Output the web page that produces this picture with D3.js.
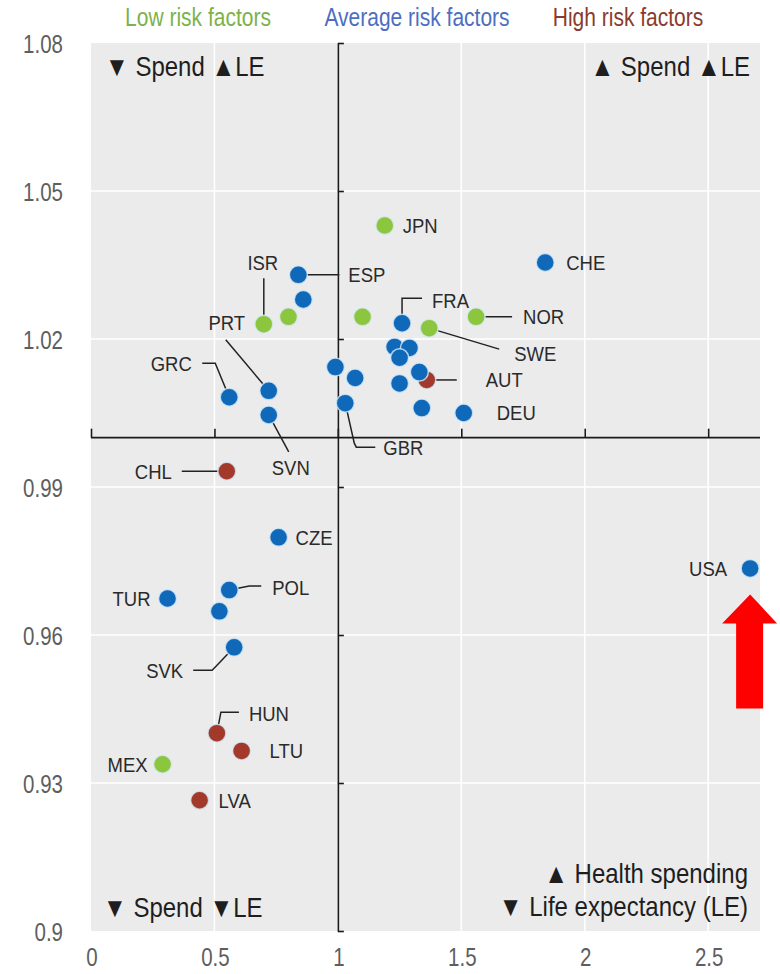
<!DOCTYPE html>
<html><head><meta charset="utf-8">
<script src="https://cdn.jsdelivr.net/npm/d3@7"></script>
<style>
html,body{margin:0;padding:0;background:#fff;}
svg{display:block;font-family:"Liberation Sans",Arial,sans-serif;}
</style></head>
<body>
<svg id="chart" width="780" height="974"></svg>
<script>
// ---- data ----
const codes   = ["JPN","CHE","ESP","","ISR","","","FRA","NOR","SWE","","","","","AUT","","","DEU","","","GBR","PRT","GRC","SVN","CHL","CZE","TUR","POL","","SVK","HUN","LTU","MEX","LVA","USA"];
const spend   = [1.19,1.84,0.84,0.86,0.70,0.80,1.10,1.26,1.56,1.37,1.23,1.29,1.25,1.25,1.36,1.33,1.34,1.51,0.99,1.07,1.03,0.72,0.56,0.72,0.55,0.76,0.31,0.56,0.52,0.58,0.51,0.61,0.29,0.44,2.67];
const lifeExp = [1.043,1.0355,1.033,1.028,1.023,1.0245,1.0245,1.0232,1.0245,1.0222,1.0184,1.0182,1.0162,1.011,1.0117,1.0133,1.006,1.005,1.0143,1.0121,1.007,1.0095,1.0082,1.0046,0.9932,0.9798,0.9674,0.9691,0.9648,0.9575,0.9401,0.9365,0.9338,0.9265,0.9735];
const risk    = ["low","avg","avg","avg","low","low","low","avg","low","low","avg","avg","avg","avg","high","avg","avg","avg","avg","avg","avg","avg","avg","avg","high","avg","avg","avg","avg","avg","high","high","low","high","avg"];
const riskGroups = ["low","avg","high"];
const riskNames  = ["Low risk factors","Average risk factors","High risk factors"];
const xTicks = [0,0.5,1,1.5,2,2.5];
const yTicks = [0.9,0.93,0.96,0.99,1.02,1.05,1.08];

// ---- styles / layout ----
const dotColor  = {low:"#8cc63e", avg:"#0f68b8", high:"#a2392a"};
const textColor = {low:"#7cb24a", avg:"#4c6ec2", high:"#8a3b2c"};
// label placement relative to dot: [dx, dy, anchor, leader points]
const labelPos = {
  JPN:[18,0,"start",null],
  CHE:[21,0,"start",null],
  ESP:[50,0,"start",[[0,0],[41,0]]],
  ISR:[-1,-62,"middle",[[0,-46],[0,-2]]],
  FRA:[30,-23,"start",[[0,0],[0,-25],[20,-25]]],
  NOR:[47,0,"start",[[0,0],[36,0]]],
  SWE:[85,25,"start",[[0,0],[70,21]]],
  AUT:[59,0,"start",[[0,0],[30,0]]],
  DEU:[33,0,"start",null],
  GBR:[38,44,"start",[[0,0],[9,40],[11,44],[30,44]]],
  PRT:[-42,-68,"middle",[[-43,-51],[0,0]]],
  GRC:[-58,-34,"middle",[[-27,-34],[-14,-34],[0,0]]],
  SVN:[22,53,"middle",[[0,0],[20,37]]],
  CHL:[-55,0,"end",[[-45,0],[0,0]]],
  CZE:[17,0,"start",null],
  TUR:[-17,0,"end",null],
  POL:[43,-3,"start",[[0,0],[20,-4],[32,-4]]],
  SVK:[-51,23,"end",[[-41,23],[-22,23],[0,0]]],
  HUN:[32,-20,"start",[[0,0],[4,-21],[22,-21]]],
  LTU:[28,0,"start",null],
  MEX:[-15,0,"end",null],
  LVA:[19,0,"start",null],
  USA:[-23,0,"end",null]
};

const svg = d3.select("#chart");
const X0 = 91, X1 = 760, Y0 = 43, Y1 = 931;
const x = d3.scaleLinear().domain([0, 2.71]).range([X0, X1]);
const y = d3.scaleLinear().domain([0.9, 1.08]).range([Y1, Y0]);

// helper: text stretched vertically around its baseline
function stretched(sel, fx, fy, sy){
  return sel.attr("x",0).attr("y",0)
    .attr("transform",(d,i)=>`translate(${fx(d,i)},${fy(d,i)}) scale(1,${sy})`);
}

// plot background
svg.append("rect").attr("x",X0).attr("y",Y0).attr("width",X1-X0).attr("height",Y1-Y0).attr("fill","#ebebeb");

// grid
const grid = svg.append("g").attr("stroke","#fff").attr("stroke-width",1.6);
grid.selectAll("line.v").data(xTicks.filter(d=>d>0)).join("line")
  .attr("x1",d=>x(d)).attr("x2",d=>x(d)).attr("y1",Y0).attr("y2",Y1);
grid.selectAll("line.h").data(yTicks.filter(d=>d>0.9 && d<1.08)).join("line").attr("class","h")
  .attr("x1",X0).attr("x2",X1).attr("y1",d=>y(d)).attr("y2",d=>y(d));

// crosshair axes
const hAxis = svg.append("g").attr("transform",`translate(0,${y(1)})`)
  .call(d3.axisTop(x).tickValues(xTicks).tickSize(9).tickSizeOuter(0).tickFormat(""));
hAxis.select(".domain").attr("d",`M${X0},0H${X1}`);
const vAxis = svg.append("g").attr("transform",`translate(${x(1)},0)`)
  .call(d3.axisRight(y).tickValues(yTicks).tickSize(6).tickSizeOuter(0).tickFormat(""));
[hAxis,vAxis].forEach(g=>{g.selectAll("path,line").attr("stroke","#1a1a1a").attr("stroke-width",1.6);});

// tick labels (drawn through axes, then stretched)
const tickF = 20.5, tickSY = 1.3;
const yLab = svg.append("g")
  .call(d3.axisLeft(y).tickValues(yTicks).tickSize(0).tickPadding(0).tickFormat(d3.format("")));
yLab.select(".domain").remove();
yLab.selectAll(".tick").attr("transform",null);
stretched(yLab.selectAll("text"), d=>63, d=>y(d)+0.36*tickF*tickSY, tickSY)
  .attr("dy",null).attr("text-anchor","end")
  .attr("font-size",tickF).attr("fill","#5e5e5e").attr("font-family","Liberation Sans, Arial, sans-serif");
const xLab = svg.append("g")
  .call(d3.axisBottom(x).tickValues(xTicks).tickSize(0).tickPadding(0).tickFormat(d3.format("")));
xLab.select(".domain").remove();
xLab.selectAll(".tick").attr("transform",null);
stretched(xLab.selectAll("text"), d=>x(d)+1, d=>966, tickSY)
  .attr("dy",null).attr("text-anchor","middle")
  .attr("font-size",tickF).attr("fill","#5e5e5e").attr("font-family","Liberation Sans, Arial, sans-serif");

// legend
const legX = [198, 417, 628];
stretched(svg.append("g").selectAll("text").data(riskGroups).join("text"), (d,i)=>legX[i], ()=>26, 1.2)
  .attr("text-anchor","middle").attr("font-size",21)
  .attr("fill",d=>textColor[d]).text((d,i)=>riskNames[i]);

// quadrant notes
const notes = [
  {t:"▼ Spend ▲LE", x:105, y:76, a:"start"},
  {t:"▲ Spend ▲LE", x:750, y:76, a:"end"},
  {t:"▼ Spend ▼LE", x:103, y:917, a:"start"},
  {t:"▲ Health spending", x:748, y:883, a:"end"},
  {t:"▼ Life expectancy (LE)", x:748, y:916, a:"end"}
];
stretched(svg.append("g").selectAll("text").data(notes).join("text"), d=>d.x, d=>d.y, 1.15)
  .attr("text-anchor",d=>d.a).attr("font-size",24).attr("fill","#1e1e1e").text(d=>d.t);

// points
const pts = codes.map((c,i)=>({code:c, sx:spend[i], le:lifeExp[i], risk:risk[i]}));

// leaders
const lg = svg.append("g").attr("fill","none").attr("stroke","#222").attr("stroke-width",1.5);
pts.filter(p=>labelPos[p.code] && labelPos[p.code][3]).forEach(p=>{
  const lp = labelPos[p.code];
  lg.append("path").attr("d", d3.line()(lp[3].map(q=>[x(p.sx)+q[0], y(p.le)+q[1]])));
});

svg.append("g").selectAll("circle").data(pts).join("circle")
  .attr("cx",d=>x(d.sx)).attr("cy",d=>y(d.le)).attr("r",9)
  .attr("fill",d=>dotColor[d.risk]).attr("stroke","rgba(215,235,250,0.8)").attr("stroke-width",1.5);

const labF = 18.5, labSY = 1.12;
stretched(svg.append("g").selectAll("text").data(pts.filter(p=>labelPos[p.code])).join("text"),
    d=>x(d.sx)+labelPos[d.code][0], d=>y(d.le)+labelPos[d.code][1]+0.36*labF*labSY, labSY)
  .attr("text-anchor",d=>labelPos[d.code][2])
  .attr("font-size",labF).attr("fill","#2a2a2a").text(d=>d.code);

// red arrow pointing at USA
const usa = pts.find(p=>p.code==="USA");
const ax = x(usa.sx), ay = y(usa.le);
const arrow = [[0,26],[27,55],[13,55],[13,140],[-14,140],[-14,55],[-28,55]];
svg.append("path").attr("d", d3.line()(arrow.map(q=>[ax+q[0], ay+q[1]]))+"Z").attr("fill","#ff0000");
</script>
</body></html>
